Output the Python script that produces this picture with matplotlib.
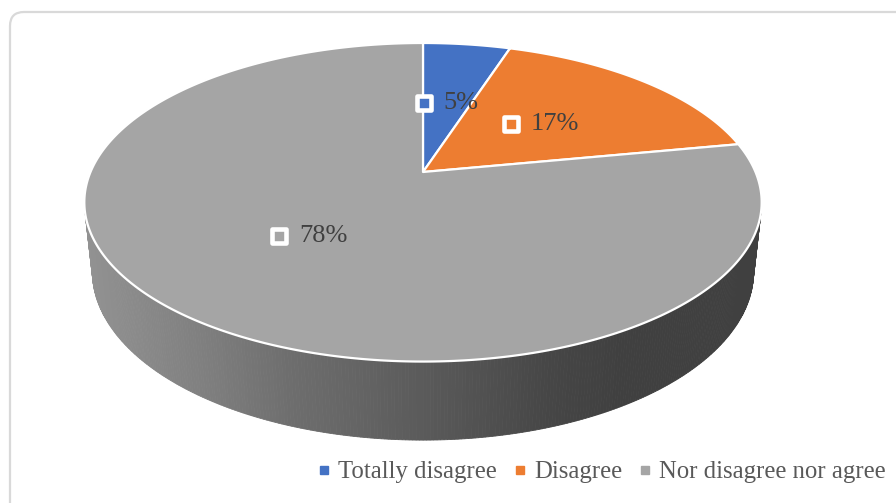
import numpy as np
import matplotlib
matplotlib.use("Agg")
import matplotlib.pyplot as plt
from matplotlib.patches import Polygon, FancyBboxPatch
from matplotlib.lines import Line2D
from matplotlib.markers import MarkerStyle

# ---- data -------------------------------------------------------------
categories = ["Totally disagree", "Disagree", "Nor disagree nor agree"]
shares = [5, 17, 78]          # percent
colors = ["#4472C4", "#ED7D31", "#A5A5A5"]
labels = [f"{v}%" for v in shares]

# ---- canvas in pixel units -------------------------------------------
W, H = 896, 503
fig = plt.figure(figsize=(W / 100, H / 100), dpi=100)
ax = fig.add_axes([0, 0, 1, 1])
ax.set_xlim(0, W)
ax.set_ylim(H, 0)
ax.axis("off")

FONT = ["Liberation Serif", "DejaVu Serif"]

# rounded chart-area frame
ax.add_patch(FancyBboxPatch((10, 12), 1000, 600,
                            boxstyle="round,pad=0,rounding_size=14",
                            facecolor="white", edgecolor="#d9d9d9",
                            linewidth=1.6, zorder=0))

# ---- perspective projection of a flat cylinder ------------------------
ELEV = np.radians(27.5)
S, C = np.sin(ELEV), np.cos(ELEV)
DIST = 5.26 * C
FOC = 129 * (DIST + C) / S
CX, CY = 423, 172
THICK = 0.237


def project(theta, r=1.0, h=0.0):
    X = r * np.sin(theta)
    Z = r * np.cos(theta)
    yc = h * C + Z * S
    d = DIST + Z * C - h * S
    return CX + FOC * X / d, CY - FOC * yc / d


fr = np.array(shares, dtype=float) / np.sum(shares)
edges = np.concatenate([[0], np.cumsum(fr)]) * 2 * np.pi

# side wall shading (grey level by horizontal position)
SIDE_X = [88, 200, 290, 420, 550, 620, 780]
SIDE_V = [146, 128, 110, 91, 70, 64, 64]

limit = -1.0 / (DIST * C)
for i in range(len(shares)):
    a0, a1 = edges[i], edges[i + 1]
    th = np.linspace(a0, a1, max(4, int((a1 - a0) / np.radians(0.5))))
    for t0, t1 in zip(th[:-1], th[1:]):
        if np.cos(0.5 * (t0 + t1)) >= limit:
            continue
        x0, y0 = project(t0)
        x1, y1 = project(t1)
        x2, y2 = project(t1, h=-THICK)
        x3, y3 = project(t0, h=-THICK)
        base = np.array(matplotlib.colors.to_rgb(colors[i]))
        g = np.interp(0.25 * (x0 + x1 + x2 + x3), SIDE_X, SIDE_V) / 255.0
        col = np.clip(base * g / base.max() if i < 2 else np.array([g, g, g]), 0, 1)
        ax.add_patch(Polygon([[x0, y0], [x1, y1], [x2, y2], [x3, y3]],
                             closed=True, facecolor=col, edgecolor=col,
                             linewidth=0.6, zorder=1))

# top faces
for i in range(len(shares)):
    th = np.linspace(edges[i], edges[i + 1], 400)
    px, py = project(th)
    pts = np.column_stack([np.r_[CX, px], np.r_[CY, py]])
    ax.add_patch(Polygon(pts, closed=True, facecolor=colors[i],
                         edgecolor="white", linewidth=1.6,
                         joinstyle="round", zorder=2))

# ---- data labels ------------------------------------------------------
renderer = fig.canvas.get_renderer()
box_marker = MarkerStyle("s", joinstyle="round")
for i, lab in enumerate(labels):
    mid = 0.5 * (edges[i] + edges[i + 1])
    lx, ly = project(mid, r=0.5)
    t = ax.text(0, ly, lab, fontsize=19, family=FONT, color="#404040",
                ha="left", va="center", zorder=4)
    tw = t.get_window_extent(renderer).width
    total = 18 + 11 + tw
    left = lx - total / 2
    t.set_x(left + 29)
    ax.plot([left + 9], [ly], linestyle="none", marker=box_marker,
            markersize=9.7, markerfacecolor=colors[i],
            markeredgecolor="white", markeredgewidth=3.3, zorder=4)

# ---- legend -----------------------------------------------------------
handles = [Line2D([], [], linestyle="none", marker="s", markersize=6.3,
                  color=c) for c in colors]
ax.legend(handles, categories, loc="center left",
          bbox_to_anchor=(319.5 / W, 1 - 472 / H), ncol=3, frameon=False,
          borderpad=0, borderaxespad=0, handlelength=0.4,
          handletextpad=0.35, columnspacing=0.75,
          prop={"family": FONT, "size": 17.8}, labelcolor="#595959")

fig.savefig("out.png", dpi=100)
